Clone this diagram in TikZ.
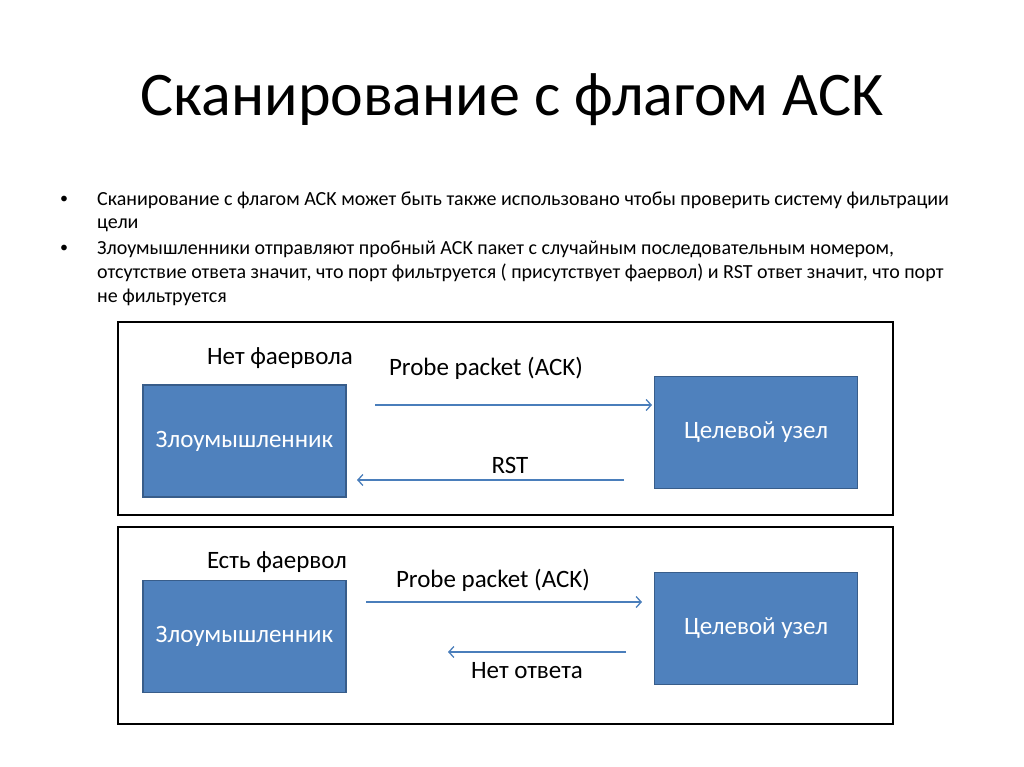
\documentclass[tikz,border=0pt]{standalone}
\usepackage{fontspec}
\setmainfont{Carlito}
\usepackage{xcolor}
\usetikzlibrary{positioning,calc,arrows.meta}
\definecolor{boxblue}{HTML}{4F81BD}
\definecolor{boxedge}{HTML}{385D8A}
\definecolor{arrowblue}{HTML}{4A7EBB}
\newcommand{\hostnode}[3]{\node [host] (#1) at (#2) {#3}}
\newcommand{\txtline}[3]{\node [bul] (#1) at (#2) {#3}}

\begin{document}
\begin{tikzpicture}[x=1pt,y=-1pt,
  host/.style={draw=boxedge, line width=1.2pt, fill=boxblue, text=white,
    minimum width=203pt, minimum height=112pt, font=\fontsize{25}{30}\selectfont},
  panel/.style={draw=black, line width=2.5pt},
  lbl/.style={font=\fontsize{25}{30}\selectfont, inner sep=0pt},
  msg/.style={draw=arrowblue, line width=1.3pt, -{Straight Barb[length=5pt,width=11pt]}},
  bul/.style={font=\fontsize{20}{23}\selectfont, anchor=base west, inner sep=0pt}]

\useasboundingbox (0,0) rectangle (1024,767);

% title
\node [font=\fontsize{62}{70}\selectfont, anchor=base, inner sep=0pt] (TITLE) at (512,116) {Сканирование с флагом ACK};

% bullets
\node [bul, font=\fontsize{16}{20}\selectfont] (B1) at (60,204) {•};
\txtline{T1a}{97,206}{Сканирование с флагом ACK может быть также использовано чтобы проверить систему фильтрации};
\txtline{T1b}{97,229}{цели};
\node [bul, font=\fontsize{16}{20}\selectfont] (B2) at (60,252) {•};
\txtline{T2a}{97,254}{Злоумышленники отправляют пробный ACK пакет с случайным последовательным номером,};
\txtline{T2b}{97,278}{отсутствие ответа значит, что порт фильтруется ( присутствует фаервол) и RST ответ значит, что порт};
\txtline{T2c}{97,302}{не фильтруется};

% panel without firewall
\draw [panel] (118,322) rectangle (893,515);
\hostnode{ATK1}{244.5,441}{Злоумышленник};
\hostnode{TGT1}{756,432.5}{Целевой узел};
\node [lbl] (FW1) at (280,358) {Нет фаервола};
\coordinate (P1S) at (375,405);
\coordinate (P1E) at (652,405);
\coordinate (R1S) at (624,480);
\coordinate (R1E) at (357,480);
\draw [msg] (P1S) -- (P1E);
\draw [msg] (R1S) -- (R1E);
\node [lbl] (PR1) at (486,368) {Probe packet (ACK)};
\node [lbl] (RST) at (510,465) {RST};

% panel with firewall
\draw [panel] (118,527) rectangle (893,724);
\hostnode{ATK2}{244.5,636.5}{Злоумышленник};
\hostnode{TGT2}{756,628.5}{Целевой узел};
\node [lbl] (FW2) at (277,562) {Есть фаервол};
\coordinate (P2S) at (366,602);
\coordinate (P2E) at (642,602);
\coordinate (R2S) at (626,652);
\coordinate (R2E) at (448,652);
\draw [msg] (P2S) -- (P2E);
\draw [msg] (R2S) -- (R2E);
\node [lbl] (PR2) at (493,580) {Probe packet (ACK)};
\node [lbl] (NOANS) at (527,671) {Нет ответа};

\end{tikzpicture}
\end{document}
